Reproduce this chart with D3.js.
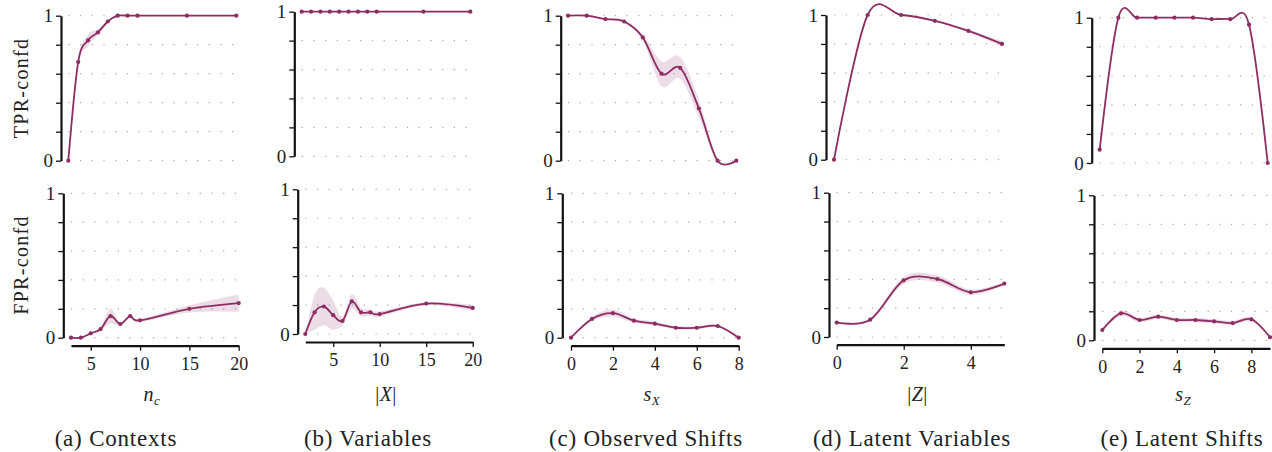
<!DOCTYPE html>
<html>
<head>
<meta charset="utf-8">
<script src="https://cdn.jsdelivr.net/npm/d3@7"></script>
<style>
  body { margin: 0; background: #fff; }
  text { font-family: "Liberation Serif", "DejaVu Serif", serif; fill: #222; }
</style>
</head>
<body>
<script>
// ---- data ----
const yTicks = [0, 0.2, 0.4, 0.6, 0.8, 1];

// (a) contexts
const ncVals = [3, 4, 5, 6, 7, 8, 9, 10, 15, 20];
const ncTpr = [0, 0.68, 0.83, 0.885, 0.96, 1, 1, 1, 1, 1];
const ncTprErr = [0, 0.02, 0.04, 0.02, 0.01, 0.005, 0, 0, 0, 0];
const ncFpr = [0, 0, 0.03, 0.06, 0.15, 0.095, 0.15, 0.12, 0.2, 0.24];
const ncFprErr = [0, 0.003, 0.005, 0.01, 0.05, 0.01, 0.01, 0.01, 0.025, 0.06];
const ncTicks = [5, 10, 15, 20];

// (b) variables
const xVals = [2, 3, 4, 5, 6, 7, 8, 9, 10, 15, 20];
const xTpr = [1, 1, 1, 1, 1, 1, 1, 1, 1, 1, 1];
const xTprErr = [0, 0, 0, 0, 0, 0, 0, 0, 0, 0, 0];
const xFpr = [0, 0.15, 0.19, 0.13, 0.09, 0.225, 0.15, 0.15, 0.138, 0.21, 0.18];
const xFprErr = [0, 0.12, 0.13, 0.1, 0.03, 0.05, 0.03, 0.02, 0.02, 0.01, 0.02];
const xTicks = [5, 10, 15, 20];

// (c) observed shifts (top row has one more point than the bottom row)
const sxTopVals = [0, 1, 2, 3, 4, 5, 6, 7, 8, 9];
const sxTpr = [1, 1, 0.977, 0.96, 0.85, 0.6, 0.64, 0.36, 0, 0];
const sxTprErr = [0, 0, 0.005, 0.01, 0.02, 0.085, 0.075, 0.06, 0.01, 0];
const sxVals = [0, 1, 2, 3, 4, 5, 6, 7, 8];
const sxFpr = [0, 0.13, 0.17, 0.118, 0.097, 0.069, 0.069, 0.081, 0];
const sxFprErr = [0, 0.015, 0.025, 0.015, 0.015, 0.01, 0.01, 0.01, 0];
const sxTicks = [0, 2, 4, 6, 8];

// (d) latent variables
const zVals = [0, 1, 2, 3, 4, 5];
const zTpr = [0, 1, 1, 0.96, 0.89, 0.8];
const zTprErr = [0, 0, 0, 0.005, 0.01, 0.02];
const zFpr = [0.1, 0.12, 0.393, 0.402, 0.31, 0.37];
const zFprErr = [0.005, 0.01, 0.025, 0.025, 0.02, 0.01];
const zTicks = [0, 2, 4];

// (e) latent shifts
const szVals = [0, 1, 2, 3, 4, 5, 6, 7, 8, 9];
const szTpr = [0.092, 1, 1, 1, 1, 1, 0.99, 0.99, 0.952, 0];
const szTprErr = [0, 0, 0, 0, 0, 0, 0, 0, 0, 0];
const szFpr = [0.071, 0.186, 0.14, 0.163, 0.14, 0.14, 0.131, 0.119, 0.145, 0.021];
const szFprErr = [0.005, 0.02, 0.015, 0.015, 0.015, 0.015, 0.015, 0.015, 0.015, 0.005];
const szTicks = [0, 2, 4, 6, 8];

const captions = ["(a) Contexts", "(b) Variables", "(c) Observed Shifts", "(d) Latent Variables", "(e) Latent Shifts"];

// ---- layout (pixel boxes of each panel) ----
const layout = [
  { cap: 116,
    top: { ax: 61, x0: 68.3, x1: 236.3, y0: 160.7, y1: 15.7 },
    bot: { ax: 63.3, x0: 71, x1: 238.7, y0: 337.7, y1: 193.3, xa: 345.7 } },
  { cap: 368,
    top: { ax: 294.3, x0: 301.7, x1: 470.3, y0: 156.3, y1: 11.7 },
    bot: { ax: 297.7, x0: 305.3, x1: 472.7, y0: 334, y1: 189.3, xa: 342 } },
  { cap: 646,
    top: { ax: 560.7, x0: 568, x1: 736.3, y0: 160.7, y1: 15.7 },
    bot: { ax: 562.3, x0: 571, x1: 738.7, y0: 337.7, y1: 193.3, xa: 345.7 } },
  { cap: 912,
    top: { ax: 826, x0: 834, x1: 1002, y0: 159.7, y1: 15 },
    bot: { ax: 829, x0: 836.7, x1: 1004.3, y0: 337, y1: 192.7, xa: 344.7 } },
  { cap: 1182,
    top: { ax: 1091.7, x0: 1099.7, x1: 1267.7, y0: 163, y1: 17.7 },
    bot: { ax: 1094, x0: 1102.3, x1: 1270, y0: 340.3, y1: 195.3, xa: 348.3 } }
];

const panels = [
  { topX: ncVals, tpr: ncTpr, tprErr: ncTprErr, botX: ncVals, fpr: ncFpr, fprErr: ncFprErr, ticks: ncTicks, title: "nc" },
  { topX: xVals, tpr: xTpr, tprErr: xTprErr, botX: xVals, fpr: xFpr, fprErr: xFprErr, ticks: xTicks, title: "X" },
  { topX: sxTopVals, tpr: sxTpr, tprErr: sxTprErr, botX: sxVals, fpr: sxFpr, fprErr: sxFprErr, ticks: sxTicks, title: "sX" },
  { topX: zVals, tpr: zTpr, tprErr: zTprErr, botX: zVals, fpr: zFpr, fprErr: zFprErr, ticks: zTicks, title: "Z" },
  { topX: szVals, tpr: szTpr, tprErr: szTprErr, botX: szVals, fpr: szFpr, fprErr: szFprErr, ticks: szTicks, title: "sZ" }
];

const lineColor = "#8e2d62";
const curve = d3.curveCatmullRom.alpha(0);

const svg = d3.select("body").append("svg")
  .attr("width", 1272).attr("height", 452);

function drawPanel(L, xs, ys, es, xTickVals) {
  const x = d3.scaleLinear().domain(d3.extent(xs)).range([L.x0, L.x1]);
  const y = d3.scaleLinear().domain([0, 1]).range([L.y0, L.y1]);
  const g = svg.append("g");

  // dotted horizontal grid
  g.selectAll("line.grid")
    .data(yTicks)
    .join("line")
    .attr("class", "grid")
    .attr("x1", L.x0).attr("x2", L.x1)
    .attr("y1", d => y(d)).attr("y2", d => y(d))
    .attr("stroke", "#a9a9a9")
    .attr("stroke-width", 1.2)
    .attr("stroke-dasharray", "1.2 10.5");

  // y axis, labels only at 0 and 1
  const ya = g.append("g")
    .attr("transform", `translate(${L.ax},0)`)
    .call(d3.axisLeft(y).tickValues(yTicks).tickSize(5).tickSizeOuter(0)
      .tickFormat(d => (d === 0 || d === 1) ? d3.format("d")(d) : ""));
  ya.select(".domain").attr("stroke", "#111").attr("stroke-width", 2.2);
  ya.selectAll(".tick line").attr("stroke", "#111").attr("stroke-width", 1.3);
  ya.selectAll(".tick text").attr("font-size", 19).attr("fill", "#222")
    .attr("font-family", "Liberation Serif, serif");

  if (xTickVals) {
    const xa = g.append("g")
      .attr("transform", `translate(0,${L.xa})`)
      .call(d3.axisBottom(x).tickValues(xTickVals).tickSize(5).tickSizeOuter(0)
        .tickFormat(d3.format("d")));
    xa.select(".domain").attr("stroke", "#111").attr("stroke-width", 2.2);
    xa.selectAll(".tick line").attr("stroke", "#111").attr("stroke-width", 1.3);
    xa.selectAll(".tick text").attr("font-size", 18).attr("y", 11.5).attr("fill", "#222")
      .attr("font-family", "Liberation Serif, serif");
  }

  const pts = xs.map((v, i) => ({ x: v, y: ys[i], e: es[i] }));

  const area = d3.area()
    .x(d => x(d.x))
    .y0(d => y(d.y - d.e))
    .y1(d => y(d.y + d.e))
    .curve(curve);
  g.append("path")
    .datum(pts)
    .attr("d", area)
    .attr("fill", lineColor)
    .attr("fill-opacity", 0.17);

  const line = d3.line().x(d => x(d.x)).y(d => y(d.y)).curve(curve);
  g.append("path")
    .datum(pts)
    .attr("d", line)
    .attr("fill", "none")
    .attr("stroke", lineColor)
    .attr("stroke-width", 1.8);

  g.selectAll("circle")
    .data(pts)
    .join("circle")
    .attr("cx", d => x(d.x))
    .attr("cy", d => y(d.y))
    .attr("r", 2.1)
    .attr("fill", lineColor);

  return x;
}

function axisTitle(sel, key) {
  const it = t => sel.append("tspan").attr("font-style", "italic").text(t);
  const sub = t => sel.append("tspan").attr("font-style", "italic")
    .attr("font-size", 13).attr("dy", 4).text(t);
  if (key === "nc") { it("n"); sub("c"); }
  else if (key === "X") { sel.append("tspan").text("|"); it("X"); sel.append("tspan").text("|"); }
  else if (key === "sX") { it("s"); sub("X"); }
  else if (key === "Z") { sel.append("tspan").text("|"); it("Z"); sel.append("tspan").text("|"); }
  else if (key === "sZ") { it("s"); sub("Z"); }
}

panels.forEach((p, i) => {
  const L = layout[i];
  drawPanel(L.top, p.topX, p.tpr, p.tprErr, null);
  drawPanel(L.bot, p.botX, p.fpr, p.fprErr, p.ticks);

  const cx = (L.bot.x0 + L.bot.x1) / 2;
  const t = svg.append("text")
    .attr("x", cx - 3).attr("y", 401)
    .attr("text-anchor", "middle")
    .attr("font-size", 20)
    .attr("letter-spacing", 0.5);
  axisTitle(t, p.title);

  svg.append("text")
    .attr("x", L.cap).attr("y", 446)
    .attr("text-anchor", "middle")
    .attr("font-size", 23)
    .attr("letter-spacing", 0.8)
    .text(captions[i]);
});

// row titles
[["TPR-confd", 88], ["FPR-confd", 265]].forEach(([label, cy]) => {
  svg.append("text")
    .attr("transform", `translate(28,${cy}) rotate(-90)`)
    .attr("text-anchor", "middle")
    .attr("font-size", 20)
    .attr("letter-spacing", 1.3)
    .text(label);
});
</script>
</body>
</html>
